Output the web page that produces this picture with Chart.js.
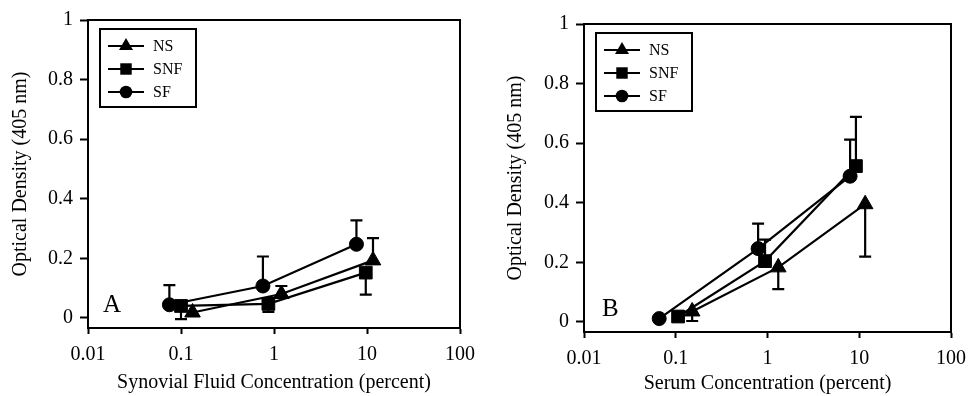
<!DOCTYPE html>
<html>
<head>
<meta charset="utf-8">
<script src="https://cdn.jsdelivr.net/npm/chart.js@4.4.1/dist/chart.umd.min.js"></script>
<style>
  html, body { margin: 0; padding: 0; background: #fff; }
  #wrap { position: relative; width: 975px; height: 396px; }
  #chartA { position: absolute; left: 0; top: 0; width: 487px; height: 396px; }
  #chartB { position: absolute; left: 487px; top: 0; width: 488px; height: 396px; }
</style>
</head>
<body>
<div id="wrap">
  <canvas id="chartA" width="487" height="396"></canvas>
  <canvas id="chartB" width="488" height="396"></canvas>
</div>
<script>
// axis ticks
const xTicks = [0.01, 0.1, 1, 10, 100];
const yTicks = [0, 0.2, 0.4, 0.6, 0.8, 1];
const seriesNames = ['NS', 'SNF', 'SF'];

// Panel A - synovial fluid (errEnd = y value where the error bar ends)
const aNSx = [0.133, 1.2, 11.6];
const aNSy = [0.018, 0.08, 0.193];
const aNSerr = [null, 0.107, 0.268];
const aSNFx = [0.1, 0.87, 9.7];
const aSNFy = [0.04, 0.047, 0.152];
const aSNFerr = [-0.004, 0.02, 0.078];
const aSFx = [0.075, 0.76, 7.7];
const aSFy = [0.044, 0.107, 0.247];
const aSFerr = [0.11, 0.206, 0.327];

// Panel B - serum
const bNSx = [0.151, 1.31, 11.6];
const bNSy = [0.035, 0.183, 0.395];
const bNSerr = [0.003, 0.11, 0.219];
const bSNFx = [0.106, 0.94, 9.2];
const bSNFy = [0.018, 0.204, 0.523];
const bSNFerr = [null, 0.276, 0.688];
const bSFx = [0.066, 0.79, 7.95];
const bSFy = [0.011, 0.246, 0.489];
const bSFerr = [null, 0.33, 0.612];

const SERIF = "'Liberation Serif', 'Times New Roman', serif";
Chart.defaults.font.family = SERIF;
Chart.defaults.color = '#000';

const markers = [
  { style: 'triangle', r: 9 },
  { style: 'rect', r: 9 },
  { style: 'circle', r: 7 }
];

function pts(xs, ys) { return xs.map((x, i) => ({ x: x, y: ys[i] })); }

function makeSets(list) {
  return list.map((s, i) => ({
    label: seriesNames[i],
    data: pts(s[0], s[1]),
    errEnd: s[2],
    borderColor: '#000', backgroundColor: '#000', borderWidth: 2.2,
    pointStyle: markers[i].style, pointRadius: markers[i].r,
    pointBackgroundColor: '#000', pointBorderColor: '#000', pointBorderWidth: 1,
    tension: 0
  }));
}

function drawMarker(ctx, style, x, y, r) {
  ctx.beginPath();
  if (style === 'circle') {
    ctx.arc(x, y, r, 0, Math.PI * 2);
  } else if (style === 'rect') {
    const h = r * Math.SQRT1_2;
    ctx.rect(x - h, y - h, 2 * h, 2 * h);
  } else {
    ctx.moveTo(x, y - r);
    ctx.lineTo(x + r * 0.866, y + r * 0.5);
    ctx.lineTo(x - r * 0.866, y + r * 0.5);
    ctx.closePath();
  }
  ctx.fill();
}

const errorBars = {
  id: 'errorBars',
  beforeDatasetsDraw(chart) {
    const { ctx } = chart;
    const xs = chart.scales.x, ys = chart.scales.y;
    ctx.save();
    ctx.strokeStyle = '#000';
    ctx.lineWidth = 2.2;
    chart.data.datasets.forEach(ds => {
      (ds.errEnd || []).forEach((e, j) => {
        if (e == null) return;
        const p = ds.data[j];
        const px = xs.getPixelForValue(p.x);
        const py = ys.getPixelForValue(p.y);
        const pe = ys.getPixelForValue(e);
        ctx.beginPath();
        ctx.moveTo(px, py); ctx.lineTo(px, pe);
        ctx.moveTo(px - 6, pe); ctx.lineTo(px + 6, pe);
        ctx.stroke();
      });
    });
    ctx.restore();
  }
};

const decor = {
  id: 'decor',
  afterDraw(chart, args, opts) {
    const { ctx, chartArea: a } = chart;
    ctx.save();
    ctx.strokeStyle = '#000';
    ctx.lineWidth = 2;
    // top and right frame
    ctx.beginPath();
    ctx.moveTo(a.left, a.top); ctx.lineTo(a.right, a.top); ctx.lineTo(a.right, a.bottom);
    ctx.stroke();

    // legend box
    const bx = a.left + 12, by = a.top + 9;
    ctx.strokeRect(bx, by, 96, 78);
    ctx.fillStyle = '#000';
    ctx.font = '16px ' + SERIF;
    ctx.textBaseline = 'middle';
    ctx.textAlign = 'left';
    ctx.lineWidth = 2.2;
    chart.data.datasets.forEach((ds, i) => {
      const ry = by + 17 + i * 23;
      ctx.beginPath();
      ctx.moveTo(bx + 8, ry); ctx.lineTo(bx + 44, ry);
      ctx.stroke();
      drawMarker(ctx, markers[i].style, bx + 26, ry, markers[i].r * 0.9);
      ctx.fillText(ds.label, bx + 53, ry + 1);
    });

    // panel letter
    ctx.font = '25px ' + SERIF;
    ctx.textBaseline = 'alphabetic';
    ctx.fillText(opts.letter, a.left + opts.letterDx, a.bottom - 16);
    ctx.restore();
  }
};

function makeChart(id, sets, cfg) {
  return new Chart(document.getElementById(id), {
    type: 'line',
    data: { datasets: makeSets(sets) },
    plugins: [errorBars, decor],
    options: {
      responsive: false,
      animation: false,
      layout: { padding: { left: 0, top: cfg.top, right: cfg.right, bottom: 0 } },
      plugins: {
        legend: { display: false },
        tooltip: { enabled: false },
        decor: { letter: cfg.letter, letterDx: cfg.letterDx }
      },
      scales: {
        x: {
          type: 'logarithmic', min: 0.01, max: 100,
          afterBuildTicks: s => { s.ticks = xTicks.map(v => ({ value: v })); },
          afterFit: s => { s.height = cfg.xh; },
          ticks: { color: '#000', font: { size: 20 }, padding: 9, autoSkip: false, maxRotation: 0, callback: v => String(v) },
          grid: { drawOnChartArea: false, drawTicks: true, tickLength: 6, tickWidth: 2, tickColor: '#000' },
          border: { display: true, color: '#000', width: 2 },
          title: { display: true, text: cfg.xTitle, color: '#000', font: { size: 20 }, padding: { top: 0, bottom: cfg.xtPad } }
        },
        y: {
          type: 'linear', min: -0.034, max: 1,
          afterBuildTicks: s => { s.ticks = yTicks.map(v => ({ value: v })); },
          afterFit: s => { s.width = cfg.yw; },
          ticks: { color: '#000', font: { size: 20 }, padding: 7, callback: v => String(v) },
          grid: { drawOnChartArea: false, drawTicks: true, tickLength: 8, tickWidth: 2, tickColor: '#000' },
          border: { display: true, color: '#000', width: 2 },
          title: { display: true, text: 'Optical Density (405 nm)', color: '#000', font: { size: 20 }, padding: { top: cfg.ytPad, bottom: 0 } }
        }
      }
    }
  });
}

makeChart('chartA', [[aNSx, aNSy, aNSerr], [aSNFx, aSNFy, aSNFerr], [aSFx, aSFy, aSFerr]], {
  top: 20, right: 27, xh: 68, yw: 88, letter: 'A', letterDx: 15,
  xTitle: 'Synovial Fluid Concentration (percent)', xtPad: 1, ytPad: 9
});
makeChart('chartB', [[bNSx, bNSy, bNSerr], [bSNFx, bSNFy, bSNFerr], [bSFx, bSFy, bSFerr]], {
  top: 24, right: 20, xh: 64, yw: 97, letter: 'B', letterDx: 18,
  xTitle: 'Serum Concentration (percent)', xtPad: 0, ytPad: 17
});
</script>
</body>
</html>
